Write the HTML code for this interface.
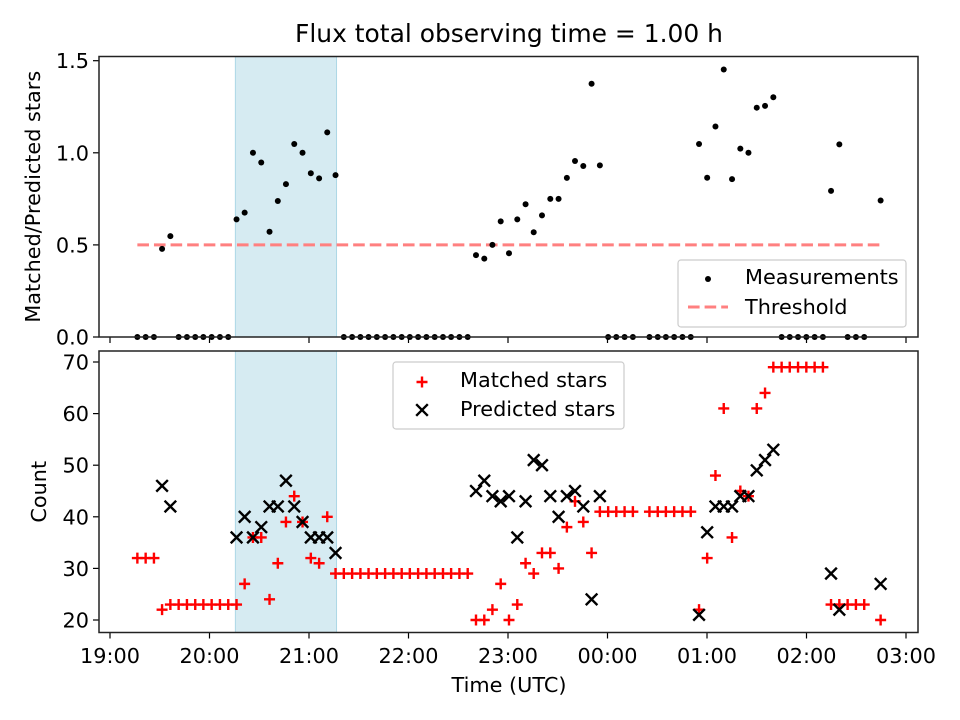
<!DOCTYPE html>
<html><head><meta charset="utf-8"><style>
html,body{margin:0;padding:0;background:#fff;}
svg{display:block;font-family:"DejaVu Sans","Liberation Sans",sans-serif;}
</style></head><body>
<svg id="chart" width="960" height="720" viewBox="0 0 960 720" xmlns="http://www.w3.org/2000/svg">
<rect x="0" y="0" width="960" height="720" fill="#fff"/>
<text x="509" y="42" font-size="25" text-anchor="middle" fill="#000" textLength="428" lengthAdjust="spacingAndGlyphs">Flux total observing time = 1.00 h</text>
<g id="topPanel"></g><g id="botPanel"></g>
</svg>
<script>
const times = [16.5,21.5,26.5,31.4,36.4,41.4,46.4,51.4,56.3,61.3,66.3,71.3,76.3,81.2,86.2,91.2,96.2,101.2,106.1,111.1,116.1,121.1,126.1,131.0,136.0,141.0,146.0,151.0,155.9,160.9,165.9,170.9,175.9,180.8,185.8,190.8,195.8,200.8,205.7,210.7,215.7,220.7,225.7,230.6,235.6,240.6,245.6,250.6,255.5,260.5,265.5,270.5,275.5,280.4,285.4,290.4,295.4,300.4,305.3,310.3,315.3,325.3,330.3,335.2,340.2,345.2,350.2,355.2,360.1,365.1,370.1,375.1,380.1,385.0,390.0,395.0,400.0,405.0,409.9,414.9,419.9,424.9,429.9,434.8,439.8,444.8,449.8,454.8,464.7];
const matched = [32,32,32,22,23,23,23,23,23,23,23,23,23,27,36,36,24,31,39,44,39,32,31,40,29,29,29,29,29,29,29,29,29,29,29,29,29,29,29,29,29,20,20,22,27,20,23,31,29,33,33,30,38,43,39,33,41,41,41,41,41,41,41,41,41,41,41,22,32,48,61,36,45,44,61,64,69,69,69,69,69,69,69,23,23,23,23,23,20];
const predicted = [null,null,null,46,42,null,null,null,null,null,null,null,36,40,36,38,42,42,47,42,39,36,36,36,33,null,null,null,null,null,null,null,null,null,null,null,null,null,null,null,null,45,47,44,43,44,36,43,51,50,44,40,44,45,42,24,44,null,null,null,null,null,null,null,null,null,null,21,37,42,42,42,44,44,49,51,53,null,null,null,null,null,null,29,22,null,null,null,27];
const threshold = 0.5;
const shadeStart = 75.6, shadeEnd = 136.6;
const xTickLabels = ["19:00","20:00","21:00","22:00","23:00","00:00","01:00","02:00","03:00"];
const topTicks = [0.0,0.5,1.0,1.5];
const botTicks = [20,30,40,50,60,70];

const NS="http://www.w3.org/2000/svg";
const FS=20.8;
const X = m => 110 + m*99.5/60;
const YT = v => 337 - 184.2*v;
const YB = v => 620 - 5.16*(v-20);
const L=99,R=918;
function mk(parent,tag,attrs){const e=document.createElementNS(NS,tag);for(const k in attrs)e.setAttribute(k,attrs[k]);parent.appendChild(e);return e;}
const topG=document.getElementById('topPanel'), botG=document.getElementById('botPanel');
const ratio = matched.map((m,i)=>predicted[i]?m/predicted[i]:0);

function frame(g,y0,y1,ticks,Y,fmt,ylabel,lab,showX){
  let sh=mk(g,'rect',{x:X(shadeStart),y:y0,width:X(shadeEnd)-X(shadeStart),height:y1-y0,fill:'#add8e6','fill-opacity':0.5,stroke:'#add8e6','stroke-width':1});
  
  
  ticks.forEach(v=>{
    let t=mk(g,'line',{x1:L-6,x2:L,y1:Y(v),y2:Y(v),stroke:'#000','stroke-width':1.2});
    
    
    let tx=mk(g,'text',{x:L-10,y:Y(v)+7.5,'font-size':FS,'text-anchor':'end'});tx.textContent=fmt(v);
    
    
  });
  xTickLabels.forEach((s,i)=>{
    const x=X(i*60);
    let t=mk(g,'line',{x1:x,x2:x,y1:y1,y2:y1+6,stroke:'#000','stroke-width':1.2});
    
    
    if(showX){let tx=mk(g,'text',{x:x,y:663,'font-size':FS,'text-anchor':'middle'});tx.textContent=s;
      
      }
  });
  let yl=mk(g,'text',{x:0,y:0,'font-size':FS,'text-anchor':'middle',transform:`translate(${lab},${(y0+y1)/2}) rotate(-90)`});yl.textContent=ylabel;
  
  
}
frame(topG,56.5,337,topTicks,YT,v=>v.toFixed(1),'Matched/Predicted stars',40,false);
frame(botG,351,632.5,botTicks,YB,v=>String(v),'Count',46,true);

let th=mk(topG,'line',{x1:X(times[0]),x2:X(times[times.length-1]),y1:YT(threshold),y2:YT(threshold),stroke:'#ff8080','stroke-width':3,'stroke-dasharray':'11.6 5'});


times.forEach((t,i)=>{
  let c=mk(topG,'circle',{cx:X(t),cy:YT(ratio[i]),r:3,fill:'#000'});
  
  
});
function plus(g,x,y){const s=5.5;return mk(g,'path',{d:`M${x-s},${y}H${x+s}M${x},${y-s}V${y+s}`,stroke:'#f00','stroke-width':2.4,fill:'none'});}
function cross(g,x,y){const s=5.8;return mk(g,'path',{d:`M${x-s},${y-s}L${x+s},${y+s}M${x-s},${y+s}L${x+s},${y-s}`,stroke:'#000','stroke-width':2.4,fill:'none'});}
times.forEach((t,i)=>{
  let p=plus(botG,X(t),YB(matched[i]));
  
  
});
times.forEach((t,i)=>{
  if(predicted[i]==null)return;
  let p=cross(botG,X(t),YB(predicted[i]));
  
  
});
[[topG,56.5,337],[botG,351,632.5]].forEach(([g,a,b])=>{
  let f=mk(g,'rect',{x:L,y:a,width:R-L,height:b-a,fill:'none',stroke:'#222','stroke-width':1.5});
  
  
});
let xl=mk(botG,'text',{x:509,y:692,'font-size':FS,'text-anchor':'middle'});xl.textContent='Time (UTC)';


let lg1=mk(topG,'g',{});


mk(lg1,'rect',{x:678,y:260,width:228,height:67,rx:3,fill:'#fff','fill-opacity':0.8,stroke:'#ccc','stroke-width':1.2});
mk(lg1,'circle',{cx:708,cy:279,r:3,fill:'#000'});
let t1=mk(lg1,'text',{x:745,y:284,'font-size':FS});t1.textContent='Measurements';
mk(lg1,'line',{x1:688,x2:728,y1:307,y2:307,stroke:'#ff8080','stroke-width':3,'stroke-dasharray':'11.6 5'});
let t2=mk(lg1,'text',{x:745,y:314,'font-size':FS});t2.textContent='Threshold';
let lg2=mk(botG,'g',{});


mk(lg2,'rect',{x:393,y:362,width:231,height:67,rx:3,fill:'#fff','fill-opacity':0.8,stroke:'#ccc','stroke-width':1.2});
plus(lg2,422,382);cross(lg2,422,410);
let t3=mk(lg2,'text',{x:460,y:387,'font-size':FS});t3.textContent='Matched stars';
let t4=mk(lg2,'text',{x:460,y:416,'font-size':FS});t4.textContent='Predicted stars';
</script>
</body></html>
